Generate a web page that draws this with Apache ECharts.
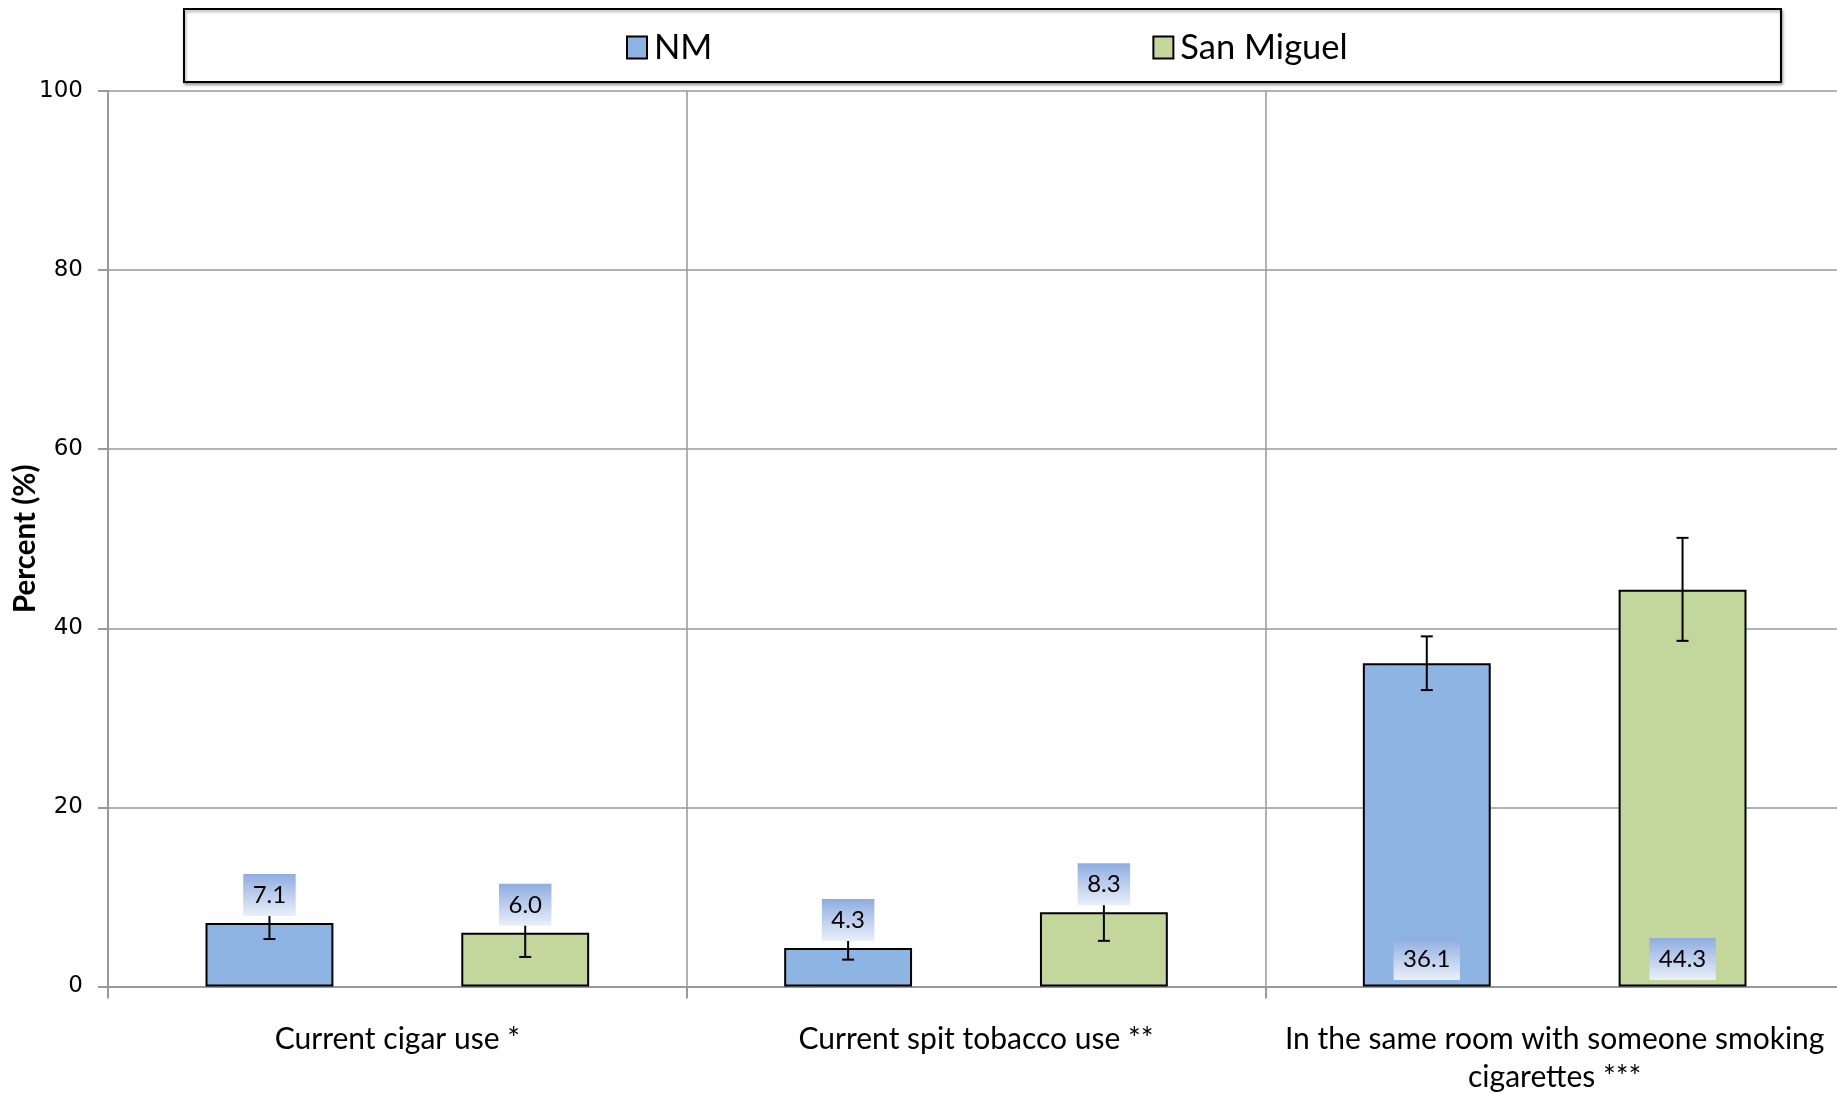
<!DOCTYPE html>
<html>
<head>
<meta charset="utf-8">
<script src="https://cdn.jsdelivr.net/npm/echarts@6/dist/echarts.min.js"></script>
<style>
html,body{margin:0;padding:0;background:#fff;}
#chart{width:1837px;height:1094px;}
</style>
</head>
<body>
<div id="chart"></div>
<script>
// ---- data ----
const categories = ['Current cigar use *', 'Current spit tobacco use **', 'In the same room with someone smoking\ncigarettes ***'];
const seriesNames = ['NM', 'San Miguel'];
const nmValues = [7.1, 4.3, 36.1];
const nmLow = [5.3, 3.0, 33.1];
const nmHigh = [8.9, 5.6, 39.1];
const smValues = [6.0, 8.3, 44.3];
const smLow = [3.3, 5.1, 38.6];
const smHigh = [8.7, 11.5, 50.1];
const yTicks = [0, 20, 40, 60, 80, 100];

// ---- style ----
const BAR_W = 0.221;
const BAR_GAP = 1.0;
const colors = ['#8EB4E3', '#C3D69B'];
const FONT = 'Lato, "Open Sans", sans-serif';

const errData = [];
[[nmValues, nmLow, nmHigh], [smValues, smLow, smHigh]].forEach((arr, s) => {
  arr[0].forEach((v, i) => errData.push([i, arr[1][i], arr[2][i], s, v]));
});

const labelBg = {
  type: 'linear', x: 0, y: 0, x2: 0, y2: 1,
  colorStops: [{offset: 0, color: '#8FADE0'}, {offset: 1, color: '#EAEFF9'}]
};

const chart = echarts.init(document.getElementById('chart'), null, {renderer: 'canvas'});
chart.setOption({
  backgroundColor: '#fff',
  animation: false,
  graphic: [{
    type: 'rect', z: 0,
    shape: {x: 184, y: 9, width: 1597, height: 73},
    style: {fill: '#fff', stroke: '#000', lineWidth: 2, shadowColor: 'rgba(0,0,0,0.35)', shadowBlur: 3, shadowOffsetY: 2, shadowOffsetX: 1}
  }],
  legend: {
    data: seriesNames,
    left: 621, top: 25,
    itemWidth: 20, itemHeight: 22, itemGap: 440,
    icon: 'rect',
    textStyle: {fontFamily: FONT, fontSize: 34.5, color: '#000', padding: [0, 0, 0, 2]},
    z: 5
  },
  grid: {left: 108, right: -7, top: 91, bottom: 107.5, containLabel: false, outerBoundsMode: 'none'},
  xAxis: {
    type: 'category',
    data: categories,
    axisLine: {show: true, lineStyle: {color: '#999', width: 2}},
    axisTick: {show: true, length: 12, lineStyle: {color: '#999', width: 2}},
    splitLine: {show: true, lineStyle: {color: '#999', width: 1.5}},
    axisLabel: {fontFamily: FONT, fontSize: 30, color: '#000', margin: 33.5, lineHeight: 38, interval: 0}
  },
  yAxis: {
    type: 'value', min: 0, max: 100, interval: 20,
    name: 'Percent (%)', nameLocation: 'middle', nameGap: 68, nameMoveOverlap: false,
    nameTextStyle: {fontFamily: FONT, fontSize: 29.5, fontWeight: 'bold', color: '#000'},
    axisLine: {show: true, lineStyle: {color: '#999', width: 2}},
    axisTick: {show: true, length: 10, lineStyle: {color: '#999', width: 2}},
    splitLine: {show: true, lineStyle: {color: '#999', width: 1.5}},
    axisLabel: {fontFamily: '"DejaVu Sans", Verdana, sans-serif', fontSize: 23, color: '#000', margin: 25,
      formatter: v => yTicks.includes(v) ? String(v) : ''}
  },
  series: [
    {name: seriesNames[0], type: 'bar', data: nmValues, barWidth: (BAR_W*100)+'%', barGap: (BAR_GAP*100)+'%',
     itemStyle: {color: colors[0], borderColor: '#000', borderWidth: 2}, z: 2},
    {name: seriesNames[1], type: 'bar', data: smValues, barWidth: (BAR_W*100)+'%', barGap: (BAR_GAP*100)+'%',
     itemStyle: {color: colors[1], borderColor: '#000', borderWidth: 2}, z: 2},
    {
      type: 'custom', z: 4, data: errData, clip: false,
      encode: {x: 0, y: [1, 2]},
      renderItem: function (params, api) {
        const cat = api.value(0), low = api.value(1), high = api.value(2), s = api.value(3), val = api.value(4);
        const band = api.size([1, 0])[0];
        const bw = band * BAR_W;
        const off = (s === 0 ? -1 : 1) * bw * (1 + BAR_GAP) / 2;
        const pL = api.coord([cat, low]), pH = api.coord([cat, high]);
        const pV = api.coord([cat, val]), p0 = api.coord([cat, 0]);
        const x = pL[0] + off;
        const cap = 6;
        const inside = val > 20;
        const ly = inside ? p0[1] - 6.5 : pV[1] - 7;
        const ls = {stroke: '#000', lineWidth: 2};
        return {
          type: 'group',
          children: [
            {type: 'line', shape: {x1: x, y1: pL[1], x2: x, y2: pH[1]}, style: ls, z2: 1},
            {type: 'line', shape: {x1: x - cap, y1: pL[1], x2: x + cap, y2: pL[1]}, style: ls, z2: 1},
            {type: 'line', shape: {x1: x - cap, y1: pH[1], x2: x + cap, y2: pH[1]}, style: ls, z2: 1},
            {type: 'text', z2: 10, style: {
              x: x, y: ly, text: val.toFixed(1), align: 'center', verticalAlign: 'bottom',
              font: '24px ' + FONT, fill: '#000', lineHeight: 28,
              backgroundColor: labelBg, padding: [7, 9.5, 7, 9.5]
            }}
          ]
        };
      }
    }
  ]
});
</script>
</body>
</html>
